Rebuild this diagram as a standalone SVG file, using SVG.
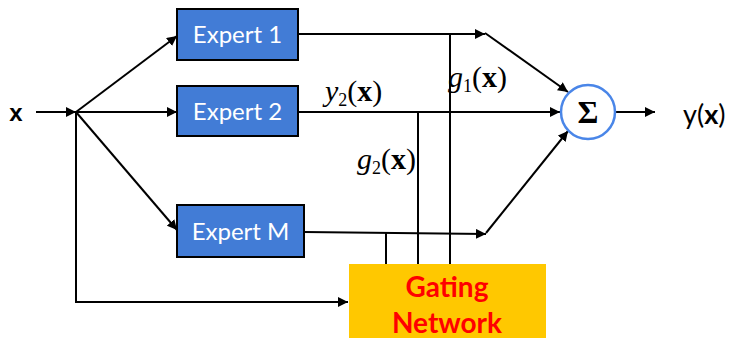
<svg xmlns="http://www.w3.org/2000/svg" width="731" height="338" viewBox="0 0 731 338">
<style>
.box{fill:#427CD6;stroke:#000;stroke-width:2}
.et{font-family:Lato,"Open Sans",sans-serif;font-size:24px;fill:#fff;text-anchor:middle}
.ln{fill:none;stroke:#000;stroke-width:2}
.math{font-family:"Liberation Serif",serif;font-size:30px}
.sub{font-size:18px}
.sans{font-family:Lato,"Liberation Sans",sans-serif}
</style>
<defs>
<marker id="ah" viewBox="0 0 10 10" refX="10" refY="5" markerWidth="5" markerHeight="5" orient="auto" markerUnits="strokeWidth">
<path d="M0,0 L10,5 L0,10 z" fill="#000"/>
</marker>
</defs>
<rect width="731" height="338" fill="#fff"/>
<g id="connectors">
<line class="ln" x1="36" y1="112" x2="76" y2="112" marker-end="url(#ah)"/>
<line class="ln" x1="76" y1="112" x2="177" y2="36" marker-end="url(#ah)"/>
<line class="ln" x1="76" y1="112" x2="177" y2="112" marker-end="url(#ah)"/>
<line class="ln" x1="76" y1="112" x2="177" y2="230" marker-end="url(#ah)"/>
<polyline class="ln" points="76,112 76,302 348,302" marker-end="url(#ah)"/>
<line class="ln" x1="298" y1="34" x2="485" y2="34" marker-end="url(#ah)"/>
<line class="ln" x1="485" y1="33" x2="568" y2="92" marker-end="url(#ah)"/>
<line class="ln" x1="298" y1="112" x2="560" y2="112" marker-end="url(#ah)"/>
<line class="ln" x1="304" y1="232" x2="486" y2="234" marker-end="url(#ah)"/>
<line class="ln" x1="486" y1="233" x2="568" y2="131" marker-end="url(#ah)"/>
<line class="ln" x1="616" y1="112" x2="655" y2="112" marker-end="url(#ah)"/>
<line class="ln" x1="450" y1="34" x2="450" y2="264"/>
<line class="ln" x1="418" y1="112" x2="418" y2="264"/>
<line class="ln" x1="386" y1="233" x2="386" y2="264"/>
</g>
<g id="input">
<text x="16" y="121" font-family="'Liberation Sans',sans-serif" font-size="24" font-weight="bold" text-anchor="middle">x</text>
</g>
<g id="expert1">
<rect class="box" x="177" y="9" width="121" height="51"/>
<text class="et" x="237.5" y="43">Expert 1</text>
</g>
<g id="expert2">
<rect class="box" x="177" y="86" width="121" height="50"/>
<text class="et" x="237.5" y="120">Expert 2</text>
</g>
<g id="expertM">
<rect class="box" x="177" y="205" width="127" height="52"/>
<text class="et" x="240.5" y="240">Expert M</text>
</g>
<g id="gating">
<rect x="349" y="264" width="197" height="76" fill="#FFC800"/>
<text class="sans" x="447" y="297" font-size="28" font-weight="bold" fill="#F00" text-anchor="middle">Gating</text>
<text class="sans" x="447" y="333" font-size="28" font-weight="bold" fill="#F00" text-anchor="middle">Network</text>
</g>
<g id="sum">
<circle cx="588" cy="112" r="27" fill="#fff" stroke="#4A86E8" stroke-width="2.5"/>
<text x="588" y="123" font-family="'Liberation Serif',serif" font-size="32" font-weight="bold" text-anchor="middle">Σ</text>
</g>
<g id="output">
<text class="sans" x="683" y="124" font-size="27">y(<tspan font-weight="bold">x</tspan>)</text>
</g>
<g id="labels">
<text class="math" x="325" y="101"><tspan font-style="italic">y</tspan><tspan class="sub" dy="5">2</tspan><tspan dy="-5">(</tspan><tspan font-weight="bold">x</tspan>)</text>
<text class="math" x="448" y="87"><tspan font-style="italic">g</tspan><tspan class="sub" dy="5">1</tspan><tspan dy="-5">(</tspan><tspan font-weight="bold">x</tspan>)</text>
<text class="math" x="357" y="169"><tspan font-style="italic">g</tspan><tspan class="sub" dy="5">2</tspan><tspan dy="-5">(</tspan><tspan font-weight="bold">x</tspan>)</text>
</g>
</svg>
